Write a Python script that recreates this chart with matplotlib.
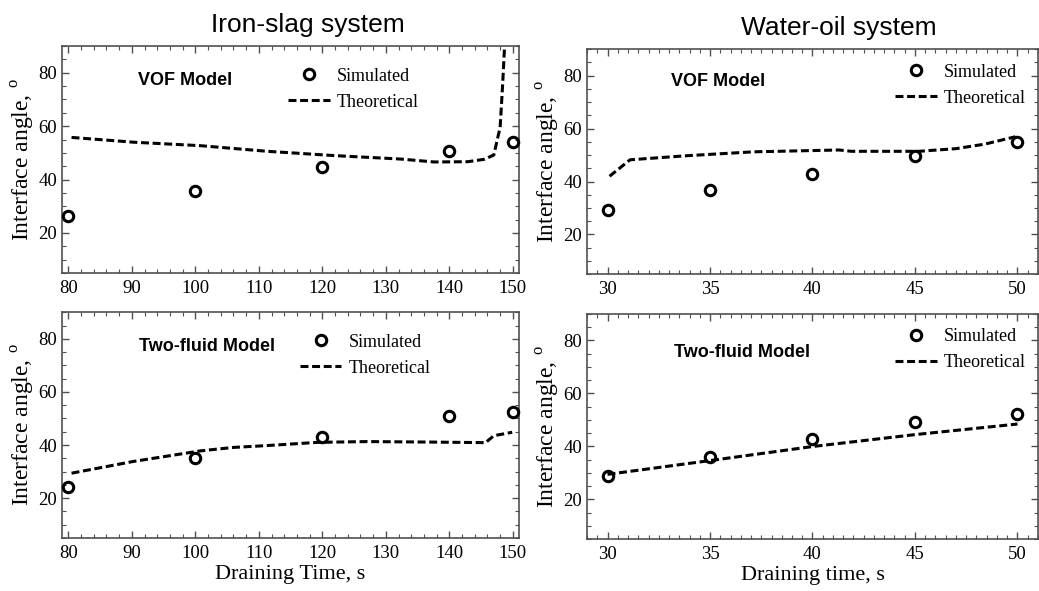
import matplotlib
matplotlib.use("Agg")
import matplotlib.pyplot as plt
from matplotlib.ticker import MultipleLocator

plt.rcParams['font.family'] = ['Liberation Serif', 'DejaVu Serif']
plt.rcParams['mathtext.fontset'] = 'custom'
plt.rcParams['mathtext.rm'] = 'Liberation Serif'

# iron-slag system
fe_sim_t = [80, 100, 120, 140, 150]
fe_vof_sim = [26.5, 35.6, 44.7, 50.6, 54.0]
fe_tf_sim = [24.1, 35.3, 43.0, 50.9, 52.3]

fe_vof_th_t = [80.5, 90.3, 100.8, 111.3, 121.8, 132.3, 137.6, 142.9, 145.5, 147.0, 148.0, 148.4, 148.7]
fe_vof_th = [55.8, 54.0, 52.7, 50.6, 49.0, 47.7, 46.6, 46.7, 47.6, 49.2, 59.6, 75.9, 90.0]

fe_tf_th_t = [80.5, 90.2, 100.8, 106.0, 111.3, 119.2, 127.0, 137.5, 145.7, 147.0, 149.9]
fe_tf_th = [29.4, 33.8, 37.8, 39.1, 39.8, 41.0, 41.3, 41.1, 40.9, 43.5, 44.8]

# water-oil system
wo_sim_t = [30, 35, 40, 45, 50]
wo_vof_sim = [29.1, 36.9, 43.0, 49.5, 55.1]
wo_tf_sim = [28.6, 35.9, 42.7, 49.0, 52.1]

wo_vof_th_t = [30.1, 31.1, 33.8, 37.1, 41.3, 41.9, 45.2, 47.0, 48.4, 49.9]
wo_vof_th = [42.0, 48.2, 49.7, 51.2, 51.9, 51.4, 51.4, 52.4, 54.1, 56.9]

wo_tf_th_t = [30, 35, 40, 45, 50]
wo_tf_th = [29.4, 34.6, 39.9, 44.4, 48.4]

fig = plt.figure(figsize=(10.39, 5.91), dpi=100)

# [left, bottom, width, height], xlim, minor, major, data..., model text, legend pos, text pos, xlabel
panels = [
    ([0.0597, 0.538, 0.440, 0.384], (79, 151), 2, 10,
     fe_sim_t, fe_vof_sim, fe_vof_th_t, fe_vof_th, "VOF Model",
     (0.495, 0.905), (0.269, 0.85), None),
    ([0.565, 0.536, 0.434, 0.381], (29, 51), 0.5, 5,
     wo_sim_t, wo_vof_sim, wo_vof_th_t, wo_vof_th, "VOF Model",
     (0.683, 0.935), (0.29, 0.858), None),
    ([0.0597, 0.0897, 0.440, 0.382], (79, 151), 2, 10,
     fe_sim_t, fe_tf_sim, fe_tf_th_t, fe_tf_th, "Two-fluid Model",
     (0.52, 0.905), (0.317, 0.85), "Draining Time, s"),
    ([0.565, 0.088, 0.434, 0.381], (29, 51), 0.5, 5,
     wo_sim_t, wo_tf_sim, wo_tf_th_t, wo_tf_th, "Two-fluid Model",
     (0.683, 0.935), (0.343, 0.83), "Draining time, s"),
]

for rect, xl, minor, major, st, sv, tt, tv, model, legpos, txtpos, xlab in panels:
    ax = fig.add_axes(rect)
    ax.plot(tt, tv, color='black', lw=2.2, ls='--', dashes=(2.6, 1.2),
            label='Theoretical')
    ax.plot(st, sv, 'o', ms=7.5, mfc='none', mec='black', mew=2.2,
            label='Simulated', clip_on=False, zorder=3)
    ax.set_xlim(*xl)
    ax.set_ylim(5, 90)
    ax.xaxis.set_major_locator(MultipleLocator(major))
    ax.xaxis.set_minor_locator(MultipleLocator(minor))
    ax.yaxis.set_minor_locator(MultipleLocator(5))
    ax.set_yticks([20, 40, 60, 80])
    ax.tick_params(which='both', direction='in', top=True, right=True,
                   labelsize=13.5, color='#505050')
    ax.tick_params(axis='x', which='major', pad=5)
    ax.tick_params(which='major', length=5, width=1)
    ax.tick_params(which='minor', length=3, width=0.8)
    for s in ax.spines.values():
        s.set_color('#505050')
        s.set_linewidth(1.2)
    ax.set_ylabel('Interface angle, $^{\\mathrm{o}}$', fontsize=17, labelpad=1)
    if xlab:
        ax.set_xlabel(xlab, fontsize=16, labelpad=2)
    ax.text(txtpos[0], txtpos[1], model, transform=ax.transAxes,
            ha='center', va='center', fontsize=13, fontweight='bold',
            family=['Liberation Sans', 'DejaVu Sans'])
    h, l = ax.get_legend_handles_labels()
    ax.legend([h[1], h[0]], [l[1], l[0]], loc='upper left',
              bbox_to_anchor=legpos, frameon=False, fontsize=13,
              borderpad=0, borderaxespad=0, handlelength=2.3,
              handletextpad=0.4, labelspacing=0.5)

fig.text(0.296, 0.957, "Iron-slag system", ha='center', va='center',
         fontsize=19, family=['Liberation Sans', 'DejaVu Sans'])
fig.text(0.807, 0.952, "Water-oil system", ha='center', va='center',
         fontsize=19, family=['Liberation Sans', 'DejaVu Sans'])

plt.savefig("out.png", dpi=100)
plt.close()
